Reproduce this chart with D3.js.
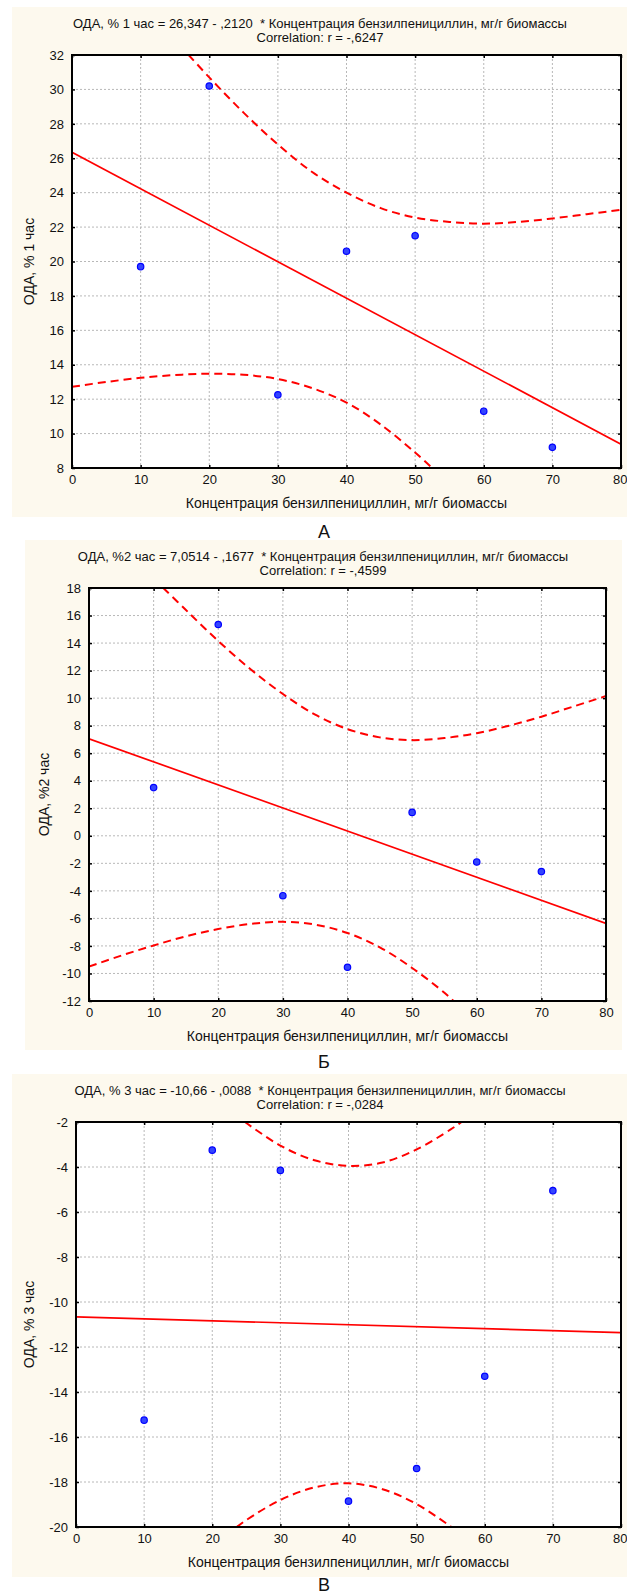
<!DOCTYPE html>
<html>
<head>
<meta charset="utf-8">
<script src="https://cdn.jsdelivr.net/npm/d3@7/dist/d3.min.js"></script>
<style>
  body { margin: 0; background: #ffffff; }
  svg text { font-family: "Liberation Sans", Arial, sans-serif; fill: #111; }
  .grid-line { stroke: #b8b8b8; stroke-dasharray: 2,2; }
</style>
</head>
<body>
<div class="plot"></div>
<script>
// ---- data ----
const concentration = [10, 20, 30, 40, 50, 60, 70];
const odaHour1 = [19.7, 30.2, 12.25, 20.6, 21.5, 11.3, 9.2];
const odaHour2 = [3.5, 15.35, -4.35, -9.55, 1.7, -1.9, -2.6];
const odaHour3 = [-15.25, -3.25, -4.15, -18.85, -17.4, -13.3, -5.05];

// fitted lines, coefficients from the titles
const fitIntercept = [26.347, 7.0514, -10.66];
const fitSlope = [-0.2120, -0.1677, -0.0088];

// 95% bands, read at a few x positions (only the part inside the frame)
const bandUpperX1 = [17, 20, 25, 30, 35, 40, 45, 50, 55, 60, 65, 70, 75, 80];
const bandUpperY1 = [32, 30.7, 28.65, 26.8, 25.2, 24.0, 23.1, 22.55, 22.3, 22.2, 22.3, 22.5, 22.75, 23.0];
const bandLowerX1 = [0, 5, 10, 15, 20, 25, 30, 35, 40, 45, 50, 52.5];
const bandLowerY1 = [12.72, 13.0, 13.24, 13.4, 13.48, 13.42, 13.17, 12.64, 11.8, 10.52, 8.9, 8];

const bandUpperX2 = [11.5, 15, 20, 25, 30, 35, 40, 45, 50, 55, 60, 65, 70, 75, 80];
const bandUpperY2 = [18, 16.4, 14.15, 12.1, 10.3, 8.8, 7.75, 7.15, 6.95, 7.1, 7.45, 8.0, 8.65, 9.4, 10.15];
const bandLowerX2 = [0, 5, 10, 15, 20, 25, 30, 35, 40, 45, 50, 55, 56.4];
const bandLowerY2 = [-9.5, -8.7, -7.97, -7.3, -6.77, -6.4, -6.25, -6.45, -7.06, -8.1, -9.6, -11.4, -12];

const bandUpperX3 = [24.8, 30, 35, 40, 45, 50, 55, 56.6];
const bandUpperY3 = [-2, -3.05, -3.7, -3.95, -3.8, -3.22, -2.33, -2];
const bandLowerX3 = [23.6, 25, 30, 35, 40, 45, 50, 55.1];
const bandLowerY3 = [-20, -19.69, -18.8, -18.24, -18.06, -18.32, -18.98, -20];

// axes
const xDomain = [0, 80];
const xTicks = [0, 10, 20, 30, 40, 50, 60, 70, 80];
const yDomains = [[8, 32], [-12, 18], [-20, -2]];
const yTicks1 = [8, 10, 12, 14, 16, 18, 20, 22, 24, 26, 28, 30, 32];
const yTicks2 = [-12, -10, -8, -6, -4, -2, 0, 2, 4, 6, 8, 10, 12, 14, 16, 18];
const yTicks3 = [-20, -18, -16, -14, -12, -10, -8, -6, -4, -2];

// texts
const titles = [
  "ОДА, % 1 час = 26,347 - ,2120  * Концентрация бензилпенициллин, мг/г биомассы",
  "ОДА, %2 час = 7,0514 - ,1677  * Концентрация бензилпенициллин, мг/г биомассы",
  "ОДА, % 3 час = -10,66 - ,0088  * Концентрация бензилпенициллин, мг/г биомассы"
];
const correlations = ["Correlation: r = -,6247", "Correlation: r = -,4599", "Correlation: r = -,0284"];
const yLabels = ["ОДА, % 1 час", "ОДА, %2 час", "ОДА, % 3 час"];
const xLabel = "Концентрация бензилпенициллин, мг/г биомассы";
const panelLetters = ["А", "Б", "В"];

// ---- layout (pixels) ----
const layout = [
  { bg: [12, 7, 627, 517], left: 72, top: 55, right: 621, bottom: 468, yLabelX: 29, titleX: 320, letterY: 538 },
  { bg: [25, 540, 622, 1050], left: 89, top: 588, right: 606, bottom: 1001, yLabelX: 44, titleX: 323, letterY: 1068 },
  { bg: [12, 1074, 627, 1577], left: 76, top: 1122, right: 621, bottom: 1527, yLabelX: 29, titleX: 320, letterY: 1591 }
];

const width = 627, height = 1595;
const labelSize = 14, titleSize = 13, tickSize = 13;
let svg;

function zip(xs, ys) {
  return xs.map((x, i) => [x, ys[i]]);
}

function renderPanel(i) {
  const p = layout[i];
  const yTicks = [yTicks1, yTicks2, yTicks3][i];
  const values = [odaHour1, odaHour2, odaHour3][i];
  const bands = [
    [zip(bandUpperX1, bandUpperY1), zip(bandLowerX1, bandLowerY1)],
    [zip(bandUpperX2, bandUpperY2), zip(bandLowerX2, bandLowerY2)],
    [zip(bandUpperX3, bandUpperY3), zip(bandLowerX3, bandLowerY3)]
  ][i];

  const xScale = d3.scaleLinear().domain(xDomain).range([p.left, p.right]);
  const yScale = d3.scaleLinear().domain(yDomains[i]).range([p.bottom, p.top]);

  const g = svg.append("g").attr("class", "panel");

  g.append("rect")
    .attr("x", p.bg[0]).attr("y", p.bg[1])
    .attr("width", p.bg[2] - p.bg[0]).attr("height", p.bg[3] - p.bg[1])
    .attr("fill", "#fdf9ee");

  g.append("rect")
    .attr("x", p.left).attr("y", p.top)
    .attr("width", p.right - p.left).attr("height", p.bottom - p.top)
    .attr("fill", "#ffffff");

  // dotted grid
  g.append("g").selectAll("line")
    .data(xTicks.slice(1, -1))
    .enter().append("line")
    .attr("class", "grid-line")
    .attr("x1", d => xScale(d)).attr("x2", d => xScale(d))
    .attr("y1", p.top).attr("y2", p.bottom);

  g.append("g").selectAll("line")
    .data(yTicks.slice(1, -1))
    .enter().append("line")
    .attr("class", "grid-line")
    .attr("x1", p.left).attr("x2", p.right)
    .attr("y1", d => yScale(d)).attr("y2", d => yScale(d));

  const clipId = "clip" + i;
  g.append("clipPath").attr("id", clipId)
    .append("rect")
    .attr("x", p.left).attr("y", p.top)
    .attr("width", p.right - p.left).attr("height", p.bottom - p.top);

  const marks = g.append("g").attr("clip-path", "url(#" + clipId + ")");

  // confidence bands
  const bandLine = d3.line()
    .x(d => xScale(d[0]))
    .y(d => yScale(d[1]))
    .curve(d3.curveCatmullRom);

  bands.forEach(b => {
    marks.append("path")
      .attr("d", bandLine(b))
      .attr("fill", "none")
      .attr("stroke", "#ff0000")
      .attr("stroke-width", 2)
      .attr("stroke-dasharray", "8,5");
  });

  // regression line
  marks.append("line")
    .attr("x1", xScale(xDomain[0]))
    .attr("y1", yScale(fitIntercept[i] + fitSlope[i] * xDomain[0]))
    .attr("x2", xScale(xDomain[1]))
    .attr("y2", yScale(fitIntercept[i] + fitSlope[i] * xDomain[1]))
    .attr("stroke", "#ff0000")
    .attr("stroke-width", 1.7);

  // points
  g.append("g").selectAll("circle")
    .data(concentration)
    .enter().append("circle")
    .attr("cx", d => xScale(d))
    .attr("cy", (d, k) => yScale(values[k]))
    .attr("r", 3.2)
    .attr("fill", "#3344ff")
    .attr("stroke", "#0000ff")
    .attr("stroke-width", 1.2);

  // axes
  const fmt = d => String(d);
  const xAxis = d3.axisBottom(xScale).tickValues(xTicks).tickFormat(fmt)
    .tickSizeInner(-3).tickSizeOuter(0).tickPadding(7);
  const yAxis = d3.axisLeft(yScale).tickValues(yTicks).tickFormat(fmt)
    .tickSizeInner(-3).tickSizeOuter(0).tickPadding(8);
  const topAxis = d3.axisTop(xScale).tickValues(xTicks).tickFormat("")
    .tickSizeInner(-3).tickSizeOuter(0);
  const rightAxis = d3.axisRight(yScale).tickValues(yTicks).tickFormat("")
    .tickSizeInner(-3).tickSizeOuter(0);

  [[xAxis, 0, p.bottom], [yAxis, p.left, 0], [topAxis, 0, p.top], [rightAxis, p.right, 0]].forEach(a => {
    const ag = g.append("g")
      .attr("transform", "translate(" + a[1] + "," + a[2] + ")")
      .call(a[0]);
    ag.select(".domain").remove();
    ag.selectAll("line").attr("stroke", "#000").attr("stroke-width", 1.5);
    ag.selectAll("text").attr("font-size", tickSize).attr("fill", "#111")
      .attr("font-family", "Liberation Sans, Arial, sans-serif");
  });

  // the last x label sits at the page edge: keep it inside
  g.selectAll("text")
    .filter(function() { return this.textContent === "80" && p.right > 615; })
    .attr("text-anchor", "end")
    .attr("x", width - p.right);

  // frame
  g.append("rect")
    .attr("x", p.left).attr("y", p.top)
    .attr("width", p.right - p.left).attr("height", p.bottom - p.top)
    .attr("fill", "none")
    .attr("stroke", "#000")
    .attr("stroke-width", 2);

  // titles
  g.append("text")
    .attr("x", p.titleX).attr("y", p.bg[1] + 21)
    .attr("text-anchor", "middle")
    .attr("font-size", titleSize)
    .style("white-space", "pre")
    .text(titles[i]);
  g.append("text")
    .attr("x", p.titleX).attr("y", p.bg[1] + 35)
    .attr("text-anchor", "middle")
    .attr("font-size", titleSize)
    .text(correlations[i]);

  // axis titles
  g.append("text")
    .attr("x", (p.left + p.right) / 2)
    .attr("y", p.bottom + 40)
    .attr("text-anchor", "middle")
    .attr("font-size", labelSize)
    .text(xLabel);
  g.append("text")
    .attr("transform", "translate(" + p.yLabelX + "," + (p.top + p.bottom) / 2 + ") rotate(-90)")
    .attr("dy", "0.35em")
    .attr("text-anchor", "middle")
    .attr("font-size", labelSize)
    .text(yLabels[i]);

  // panel letter under the chart
  g.append("text")
    .attr("x", 324).attr("y", p.letterY)
    .attr("text-anchor", "middle")
    .attr("font-size", 18)
    .attr("font-family", "Liberation Serif, Times New Roman, serif")
    .text(panelLetters[i]);
}

svg = d3.select(".plot")
  .append("svg")
  .attr("width", width)
  .attr("height", height);

[0, 1, 2].forEach(renderPanel);
</script>
</body>
</html>
